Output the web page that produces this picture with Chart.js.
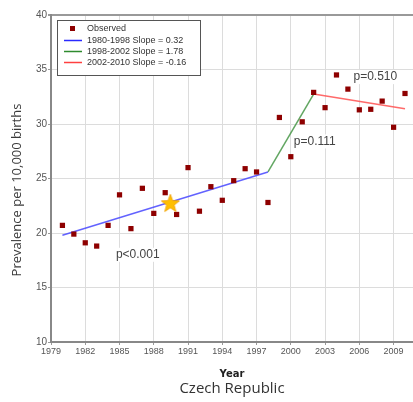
<!DOCTYPE html>
<html>
<head>
<meta charset="utf-8">
<script src="https://cdn.jsdelivr.net/npm/chart.js@4.4.1/dist/chart.umd.min.js"></script>
<style>
  html, body { margin: 0; padding: 0; background: #fff; }
  #wrap { width: 413px; height: 402px; }
</style>
</head>
<body>
<div id="wrap"><canvas id="prevChart" width="413" height="402"></canvas></div>
<script>
// observed prevalence per 10,000 births, Czech Republic
const years = [1980, 1981, 1982, 1983, 1984, 1985, 1986, 1987, 1988, 1989, 1990,
    1991, 1992, 1993, 1994, 1995, 1996, 1997, 1998, 1999, 2000,
    2001, 2002, 2003, 2004, 2005, 2006, 2007, 2008, 2009, 2010];
const observed = [20.7, 19.9, 19.1, 18.8, 20.7, 23.5, 20.4, 24.1, 21.8, 23.7, 21.7,
    26.0, 22.0, 24.25, 23.0, 24.8, 25.9, 25.6, 22.8, 30.6, 27.0,
    30.2, 32.9, 31.5, 34.5, 33.2, 31.3, 31.35, 32.1, 29.7, 32.8];

// joinpoint fit: segment break years and fitted values at them
const fitYears = [1980, 1998, 2002, 2010];
const fitValues = [19.8, 25.6, 32.75, 31.4];
const segmentLabels = ['1980-1998 Slope = 0.32', '1998-2002 Slope = 1.78', '2002-2010 Slope = -0.16'];
const segmentColors = ['rgba(70, 70, 255, 0.85)', 'rgba(70, 150, 70, 0.85)', 'rgba(255, 80, 80, 0.85)'];
const legendColors = ['#2a2aff', '#2e8b2e', '#ff4040'];

// mean point marker
const meanYear = [1989.45];
const meanValue = [22.75];

// p-values shown per segment
const pLabels = ['p<0.001', 'p=0.111', 'p=0.510'];
const pYears = [1986.6, 2002.1, 2007.4];
const pValues = [18.0, 28.4, 34.3];

const xTicks = [1979, 1982, 1985, 1988, 1991, 1994, 1997, 2000, 2003, 2006, 2009];
const yTicks = [10, 15, 20, 25, 30, 35, 40];

function starCanvas(size) {
    const c = document.createElement('canvas');
    c.width = size;
    c.height = size;
    const g = c.getContext('2d');
    const cx = size / 2, cy = size / 2 + 0.8;
    const ro = size / 2 - 0.5, ri = ro * 0.42;
    g.beginPath();
    for (let i = 0; i < 10; i++) {
        const r = i % 2 === 0 ? ro : ri;
        const a = -Math.PI / 2 + i * Math.PI / 5;
        g.lineTo(cx + r * Math.cos(a), cy + r * Math.sin(a));
    }
    g.closePath();
    g.fillStyle = '#ffbf00';
    g.fill();
    g.strokeStyle = '#f0a000';
    g.lineWidth = 0.8;
    g.stroke();
    return c;
}

const segmentSets = segmentLabels.map((label, i) => ({
    type: 'line',
    label: label,
    data: [
        { x: fitYears[i], y: fitValues[i] },
        { x: fitYears[i + 1], y: fitValues[i + 1] }
    ],
    borderColor: segmentColors[i],
    legendColor: legendColors[i],
    borderWidth: 1.5,
    pointRadius: 0,
    fill: false,
    order: 2
}));

const frameAndText = {
    id: 'frameAndText',
    afterDraw(chart) {
        const ctx = chart.ctx;
        const area = chart.chartArea;
        const xs = chart.scales.x, ys = chart.scales.y;
        ctx.save();

        // p-value labels
        ctx.font = '12px "Liberation Sans", Arial, sans-serif';
        ctx.textAlign = 'center';
        ctx.textBaseline = 'middle';
        pLabels.forEach((t, i) => {
            const px = xs.getPixelForValue(pYears[i]);
            const py = ys.getPixelForValue(pValues[i]);
            const w = ctx.measureText(t).width;
            ctx.fillStyle = '#fff';
            ctx.fillRect(px - w / 2 - 2, py - 7, w + 4, 14);
            ctx.fillStyle = '#444';
            ctx.fillText(t, px, py);
        });

        // legend box
        const lx = 57, ly = 20, lw = 143, lh = 55;
        ctx.fillStyle = '#fff';
        ctx.fillRect(lx, ly, lw, lh);
        ctx.strokeStyle = '#555';
        ctx.lineWidth = 1;
        ctx.strokeRect(lx + 0.5, ly + 0.5, lw, lh);
        ctx.font = '9px "Liberation Sans", Arial, sans-serif';
        ctx.textAlign = 'left';
        const rows = [28.5, 40.5, 51.5, 62.5];
        const obs = chart.data.datasets[0];
        ctx.fillStyle = obs.backgroundColor;
        ctx.fillRect(70, rows[0] - 2.5, 5, 5);
        ctx.fillStyle = '#333';
        ctx.fillText(obs.label, 87, rows[0]);
        chart.data.datasets.filter(d => d.type === 'line').forEach((d, i) => {
            const ry = rows[i + 1];
            ctx.strokeStyle = d.legendColor;
            ctx.lineWidth = 1.5;
            ctx.beginPath();
            ctx.moveTo(64, ry);
            ctx.lineTo(82, ry);
            ctx.stroke();
            ctx.fillStyle = '#333';
            ctx.fillText(d.label, 87, ry);
        });

        // axis captions
        const cx = (area.left + area.right) / 2;
        ctx.textAlign = 'center';
        ctx.fillStyle = '#222';
        ctx.font = 'bold 10px "DejaVu Sans", sans-serif';
        ctx.fillText('Year', cx, 374);
        ctx.fillStyle = '#333';
        ctx.font = '15px "Open Sans", sans-serif';
        ctx.fillText('Czech Republic', cx, 389);

        ctx.translate(17, 190);
        ctx.rotate(-Math.PI / 2);
        ctx.fillStyle = '#3a3a3a';
        ctx.font = '13px "Open Sans", sans-serif';
        ctx.fillText('Prevalence per 10,000 births', 0, 0);
        ctx.restore();
    }
};

new Chart(document.getElementById('prevChart').getContext('2d'), {
    type: 'scatter',
    data: {
        datasets: [
            {
                label: 'Observed',
                data: years.map((y, i) => ({ x: y, y: observed[i] })),
                pointStyle: 'rect',
                pointRadius: 3.7,
                backgroundColor: '#8e0000',
                borderColor: '#8e0000',
                borderWidth: 0,
                order: 1
            },
            ...segmentSets,
            {
                label: 'Mean',
                data: meanYear.map((y, i) => ({ x: y, y: meanValue[i] })),
                pointStyle: starCanvas(20),
                pointRadius: 10,
                order: 0
            }
        ]
    },
    options: {
        responsive: false,
        animation: false,
        layout: { autoPadding: false, padding: { top: 15, left: 0, right: 0, bottom: 0 } },
        plugins: {
            legend: { display: false },
            tooltip: { enabled: false }
        },
        scales: {
            x: {
                type: 'linear',
                min: 1979,
                max: 2010.7,
                afterBuildTicks: s => { s.ticks = xTicks.map(v => ({ value: v })); },
                afterFit: s => { s.height = 60; s.paddingLeft = 0; s.paddingRight = 0; },
                grid: { color: '#dcdcdc', lineWidth: 1, drawTicks: true, tickLength: 3, tickColor: '#999' },
                border: { color: '#888', width: 2 },
                ticks: {
                    color: '#555',
                    font: { size: 9, family: '"Liberation Sans Narrow", "Liberation Sans", sans-serif' },
                    padding: 1,
                    maxRotation: 0,
                    autoSkip: false,
                    callback: v => String(v)
                }
            },
            y: {
                min: 10,
                max: 40,
                afterBuildTicks: s => { s.ticks = yTicks.map(v => ({ value: v })); },
                afterFit: s => { s.width = 51; s.paddingTop = 0; s.paddingBottom = 0; },
                grid: {
                    color: c => (c.tick && c.tick.value === 40 ? '#999' : '#dcdcdc'),
                    lineWidth: c => (c.tick && c.tick.value === 40 ? 2 : 1),
                    tickLength: 3,
                    tickColor: '#999'
                },
                border: { color: '#888', width: 2 },
                ticks: {
                    color: '#555',
                    font: { size: 10, family: '"Liberation Sans", sans-serif' },
                    padding: 1,
                    callback: v => String(v)
                }
            }
        }
    },
    plugins: [frameAndText]
});
</script>
</body>
</html>
